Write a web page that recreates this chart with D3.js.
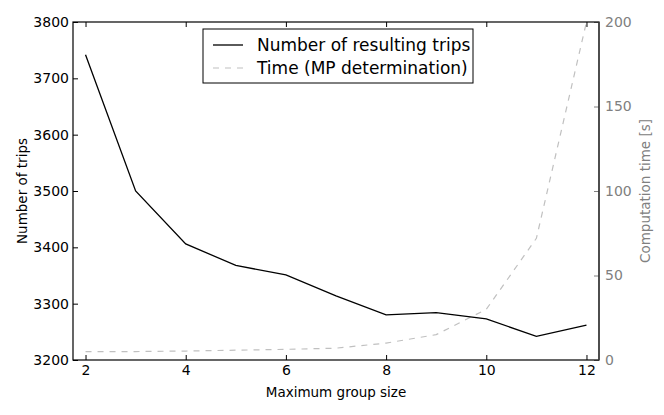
<!DOCTYPE html>
<html>
<head>
<meta charset="utf-8">
<script src="https://cdn.jsdelivr.net/npm/d3@7"></script>
<style>
  body { margin: 0; background: #fff; }
  text { font-family: "DejaVu Sans", sans-serif; }
</style>
</head>
<body>
<div id="chart"></div>
<script>
// data
var groupSizes = [2, 3, 4, 5, 6, 7, 8, 9, 10, 11, 12];
var trips = [3742, 3500, 3406, 3368, 3351, 3314, 3280, 3284, 3273, 3242, 3262];
var compTime = [5, 5, 5.3, 5.8, 6.3, 7, 10, 15, 30, 72, 200];
var xTicks = [2, 4, 6, 8, 10, 12];
var leftTicks = [3200, 3300, 3400, 3500, 3600, 3700, 3800];
var rightTicks = [0, 50, 100, 150, 200];
var legendLabels = ["Number of resulting trips", "Time (MP determination)"];

var margin = {top: 22, bottom: 55, left: 73, right: 65},
  width = 664 - margin.left - margin.right,
  height = 415 - margin.top - margin.bottom;

var svg = d3.select("#chart")
    .append("svg")
    .attr("width", 664)
    .attr("height", 415);

var g = svg.append("g")
    .attr("transform", "translate(" + margin.left + "," + margin.top + ")");

var x = d3.scaleLinear().domain([1.75, 12.25]).range([0, width]);
var yL = d3.scaleLinear().domain([3200, 3800]).range([height, 0]);
var yR = d3.scaleLinear().domain([0, 200]).range([height, 0]);

var grey = "#808080";
var fmt = d3.format("d");

// lines
var tripLine = d3.line()
    .x(function(d, i) { return x(groupSizes[i]); })
    .y(function(d) { return yL(d); });
var timeLine = d3.line()
    .x(function(d, i) { return x(groupSizes[i]); })
    .y(function(d) { return yR(d); });

g.append("path")
    .datum(compTime)
    .attr("fill", "none")
    .attr("stroke", "#c0c0c0")
    .attr("stroke-width", 1.2)
    .attr("stroke-dasharray", "6,6")
    .attr("d", timeLine);

g.append("path")
    .datum(trips)
    .attr("fill", "none")
    .attr("stroke", "#000")
    .attr("stroke-width", 1.3)
    .attr("d", tripLine);

// axes, ticks pointing inward
function styleAxis(sel, color) {
  sel.select(".domain").remove();
  sel.selectAll(".tick line").attr("stroke", color);
  sel.selectAll(".tick text").attr("fill", color).style("font-size", "14px")
     .style("font-family", "DejaVu Sans");
}

g.append("g")
    .attr("transform", "translate(0," + height + ")")
    .call(d3.axisBottom(x).tickValues(xTicks).tickSize(-5).tickPadding(5).tickFormat(fmt))
    .call(styleAxis, "#000");

g.append("g")
    .call(d3.axisTop(x).tickValues(xTicks).tickSize(-5).tickFormat(""))
    .call(styleAxis, "#000");

g.append("g")
    .call(d3.axisLeft(yL).tickValues(leftTicks).tickSize(-5).tickPadding(4).tickFormat(fmt))
    .call(styleAxis, "#000");

g.append("g")
    .attr("transform", "translate(" + width + ",0)")
    .call(d3.axisRight(yR).tickValues(rightTicks).tickSize(-5).tickPadding(6).tickFormat(fmt))
    .call(styleAxis, grey);

// frame
g.append("rect")
    .attr("width", width)
    .attr("height", height)
    .attr("fill", "none")
    .attr("stroke", "#000")
    .attr("stroke-width", 1.2);
g.append("line")
    .attr("x1", width).attr("x2", width)
    .attr("y1", 0).attr("y2", height)
    .attr("stroke", "#444")
    .attr("stroke-width", 1.4);

// axis labels
svg.append("text")
    .attr("x", margin.left + width / 2)
    .attr("y", 397)
    .attr("text-anchor", "middle")
    .style("font-size", "13.5px")
    .text("Maximum group size");

svg.append("text")
    .attr("transform", "translate(27," + (margin.top + height / 2) + ") rotate(-90)")
    .attr("text-anchor", "middle")
    .style("font-size", "13.5px")
    .text("Number of trips");

svg.append("text")
    .attr("transform", "translate(650," + (margin.top + height / 2) + ") rotate(-90)")
    .attr("text-anchor", "middle")
    .attr("fill", grey)
    .style("font-size", "13.5px")
    .text("Computation time [s]");

// legend
var legend = svg.append("g").attr("transform", "translate(203,29)");
legend.append("rect")
    .attr("width", 270)
    .attr("height", 54)
    .attr("fill", "#fff")
    .attr("stroke", "#000")
    .attr("stroke-width", 1);

var items = legend.selectAll(".item")
    .data(legendLabels)
    .enter().append("g")
    .attr("transform", function(d, i) { return "translate(0," + (16 + i * 23) + ")"; });

items.append("line")
    .attr("x1", 10).attr("x2", 40)
    .attr("stroke", function(d, i) { return i === 0 ? "#000" : "#c0c0c0"; })
    .attr("stroke-width", function(d, i) { return i === 0 ? 1.3 : 1.2; })
    .attr("stroke-dasharray", function(d, i) { return i === 0 ? null : "6,6"; });

items.append("text")
    .attr("x", 54)
    .attr("dy", "0.35em")
    .style("font-size", "17px")
    .text(function(d) { return d; });
</script>
</body>
</html>
